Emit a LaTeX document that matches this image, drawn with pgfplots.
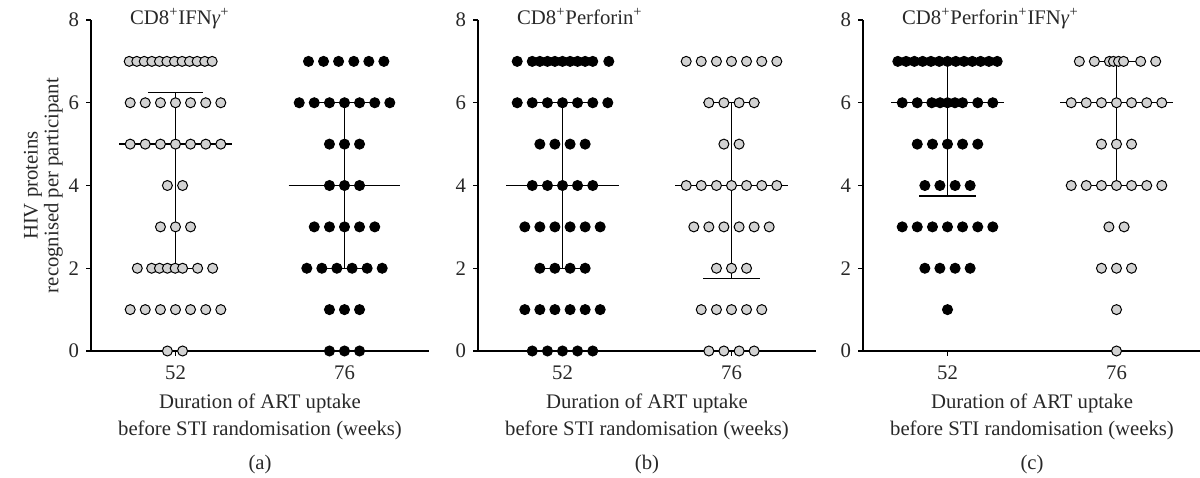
\documentclass[border=0pt]{standalone}
\usepackage{fontspec}
\setmainfont{Liberation Serif}
\usepackage{pgfplots}
\pgfplotsset{compat=1.18}
\definecolor{dotgrey}{RGB}{210,210,210}
\definecolor{txt}{RGB}{40,40,40}
\pgfplotsset{
  panel/.style={
    scale only axis, width=169bp, height=165.5bp, anchor=south west,
    xmin=-0.5, xmax=1.5, ymin=0, ymax=8,
    axis x line*=bottom, axis y line*=left,
    axis line style={-, line width=0.6bp},
    xtick={0,1}, xticklabels={52,76},
    ytick={0,2,4,6,8},
    tick align=outside, major tick length=2.5bp,
    tick style={black, line width=0.6bp},
    tick label style={font=\fontsize{10.4}{12}\selectfont, text=txt},
    xticklabel style={yshift=-1.5bp},
    /pgf/number format/assume math mode=true,
    xlabel={Duration of ART uptake\\before STI randomisation (weeks)},
    xlabel style={align=center, font=\fontsize{10.4}{13.5}\selectfont, text=txt},
    clip=false,
  },
  greydot/.style={only marks, mark=*, mark size=2.5bp, mark options={fill=dotgrey, draw=black, line width=0.5bp}},
  blackdot/.style={only marks, mark=*, mark size=2.5bp, mark options={fill=black, draw=black, line width=0.5bp}},
  bar/.style={no marks, black, line width=0.7bp},
}
\newcommand{\ttl}[1]{\node[anchor=base west, font=\fontsize{10.4}{12}\selectfont, text=txt, yshift=-2bp] at (rel axis cs:0.095,1) {#1};}
\begin{document}
\begin{tikzpicture}
\path[use as bounding box] (0,0) rectangle (600bp,239bp);

% ---------- (a) ----------
\begin{axis}[panel, at={(45.5bp,63.5bp)},
  ylabel={HIV proteins\\recognised per participant},
  ylabel style={align=center, font=\fontsize{10.4}{8.3}\selectfont, text=txt, yshift=-4bp}]
\addplot[bar] coordinates {(-0.333,5) (0.333,5)};
\addplot[bar] coordinates {(-0.164,6.25) (0.164,6.25)};
\addplot[bar] coordinates {(-0.164,2) (0.164,2)};
\addplot[bar] coordinates {(0,2) (0,6.25)};
\addplot[bar] coordinates {(0.67,4) (1.33,4)};
\addplot[bar] coordinates {(0.836,6) (1.164,6)};
\addplot[bar] coordinates {(0.836,2) (1.164,2)};
\addplot[bar] coordinates {(1,2) (1,6)};
\addplot[greydot] coordinates {
(-0.274,7)(-0.229,7)(-0.185,7)(-0.140,7)(-0.095,7)(-0.051,7)(-0.006,7)(0.039,7)(0.083,7)(0.128,7)(0.173,7)(0.217,7)
(-0.268,6)(-0.179,6)(-0.089,6)(0,6)(0.089,6)(0.179,6)(0.268,6)
(-0.268,5)(-0.179,5)(-0.089,5)(0,5)(0.089,5)(0.179,5)(0.268,5)
(-0.048,4)(0.042,4)
(-0.089,3)(0,3)(0.089,3)
(-0.226,2)(-0.141,2)(-0.095,2)(-0.048,2)(-0.002,2)(0.042,2)(0.131,2)(0.220,2)
(-0.268,1)(-0.179,1)(-0.089,1)(0,1)(0.089,1)(0.179,1)(0.268,1)
(-0.048,0)(0.042,0)
};
\addplot[blackdot] coordinates {
(0.787,7)(0.876,7)(0.965,7)(1.055,7)(1.144,7)(1.233,7)
(0.732,6)(0.821,6)(0.911,6)(1,6)(1.089,6)(1.179,6)(1.268,6)
(0.911,5)(1,5)(1.089,5)
(0.911,4)(1,4)(1.089,4)
(0.821,3)(0.911,3)(1,3)(1.089,3)(1.179,3)
(0.777,2)(0.866,2)(0.955,2)(1.045,2)(1.134,2)(1.223,2)
(0.911,1)(1,1)(1.089,1)
(0.911,0)(1,0)(1.089,0)
};
\ttl{CD8\textsuperscript{+}IFN\textit{γ}\textsuperscript{+}}
\end{axis}

% ---------- (b) ----------
\begin{axis}[panel, at={(239bp,63.5bp)}]
\addplot[bar] coordinates {(-0.333,4) (0.333,4)};
\addplot[bar] coordinates {(-0.164,6) (0.164,6)};
\addplot[bar] coordinates {(-0.164,2) (0.164,2)};
\addplot[bar] coordinates {(0,2) (0,6)};
\addplot[bar] coordinates {(0.667,4) (1.333,4)};
\addplot[bar] coordinates {(0.833,6) (1.167,6)};
\addplot[bar] coordinates {(0.833,1.75) (1.167,1.75)};
\addplot[bar] coordinates {(1,1.75) (1,6)};
\addplot[blackdot] coordinates {
(-0.268,7)(-0.179,7)(-0.134,7)(-0.089,7)(-0.045,7)(0,7)(0.045,7)(0.089,7)(0.134,7)(0.179,7)(0.274,7)
(-0.268,6)(-0.179,6)(-0.089,6)(0,6)(0.089,6)(0.179,6)(0.268,6)
(-0.134,5)(-0.045,5)(0.045,5)(0.134,5)
(-0.179,4)(-0.089,4)(0,4)(0.089,4)(0.179,4)
(-0.223,3)(-0.134,3)(-0.045,3)(0.045,3)(0.134,3)(0.223,3)
(-0.134,2)(-0.045,2)(0.045,2)(0.134,2)
(-0.223,1)(-0.134,1)(-0.045,1)(0.045,1)(0.134,1)(0.223,1)
(-0.179,0)(-0.089,0)(0,0)(0.089,0)(0.179,0)
};
\addplot[greydot] coordinates {
(0.732,7)(0.821,7)(0.911,7)(1,7)(1.089,7)(1.179,7)(1.268,7)
(0.866,6)(0.955,6)(1.045,6)(1.134,6)
(0.955,5)(1.045,5)
(0.732,4)(0.821,4)(0.911,4)(1,4)(1.089,4)(1.179,4)(1.268,4)
(0.777,3)(0.866,3)(0.955,3)(1.045,3)(1.134,3)(1.223,3)
(0.911,2)(1,2)(1.089,2)
(0.821,1)(0.911,1)(1,1)(1.089,1)(1.179,1)
(0.866,0)(0.955,0)(1.045,0)(1.134,0)
};
\ttl{CD8\textsuperscript{+}Perforin\textsuperscript{+}}
\end{axis}

% ---------- (c) ----------
\begin{axis}[panel, at={(431.5bp,63.5bp)}]
\addplot[bar] coordinates {(-0.333,6) (0.333,6)};
\addplot[bar] coordinates {(-0.167,7) (0.167,7)};
\addplot[bar] coordinates {(-0.167,3.75) (0.167,3.75)};
\addplot[bar] coordinates {(0,3.75) (0,7)};
\addplot[bar] coordinates {(0.667,6) (1.333,6)};
\addplot[bar] coordinates {(0.836,7) (1.164,7)};
\addplot[bar] coordinates {(0.836,4) (1.164,4)};
\addplot[bar] coordinates {(1,4) (1,7)};
\addplot[blackdot] coordinates {
(-0.294,7)(-0.245,7)(-0.196,7)(-0.147,7)(-0.098,7)(-0.049,7)(0,7)(0.049,7)(0.098,7)(0.147,7)(0.196,7)(0.245,7)(0.294,7)
(-0.268,6)(-0.179,6)(-0.093,6)(-0.044,6)(0,6)(0.044,6)(0.089,6)(0.179,6)(0.268,6)
(-0.179,5)(-0.089,5)(0,5)(0.089,5)(0.179,5)
(-0.134,4)(-0.045,4)(0.045,4)(0.134,4)
(-0.268,3)(-0.179,3)(-0.089,3)(0,3)(0.089,3)(0.179,3)(0.268,3)
(-0.134,2)(-0.045,2)(0.045,2)(0.134,2)
(0,1)
};
\addplot[greydot] coordinates {
(0.780,7)(0.869,7)(0.958,7)(0.982,7)(1.012,7)(1.042,7)(1.143,7)(1.232,7)
(0.732,6)(0.821,6)(0.911,6)(1,6)(1.089,6)(1.179,6)(1.268,6)
(0.911,5)(1,5)(1.089,5)
(0.732,4)(0.821,4)(0.911,4)(1,4)(1.089,4)(1.179,4)(1.268,4)
(0.955,3)(1.045,3)
(0.911,2)(1,2)(1.089,2)
(1,1)
(1,0)
};
\ttl{CD8\textsuperscript{+}Perforin\textsuperscript{+}IFN\textit{γ}\textsuperscript{+}}
\end{axis}

\node[font=\fontsize{10.4}{12}\selectfont, text=txt] at (130bp,6.5bp) {(a)};
\node[font=\fontsize{10.4}{12}\selectfont, text=txt] at (323.5bp,6.5bp) {(b)};
\node[font=\fontsize{10.4}{12}\selectfont, text=txt] at (516bp,6.5bp) {(c)};
\end{tikzpicture}
\end{document}
